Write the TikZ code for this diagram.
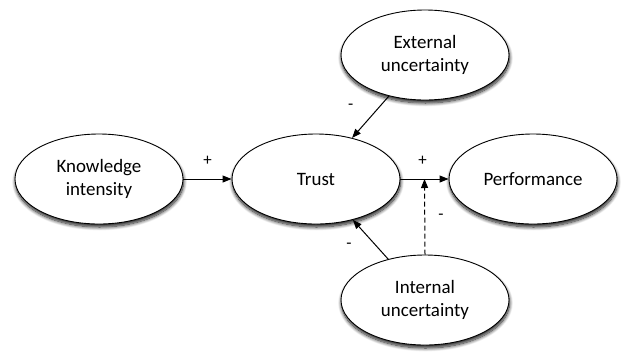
\documentclass[tikz,border=0pt]{standalone}
\usepackage{fontspec}
\setmainfont{Carlito}
\usetikzlibrary{shapes.geometric,arrows.meta,shadows.blur}
\begin{document}
\begin{tikzpicture}[x=1bp,y=-1bp,
  concept/.style={ellipse, draw, line width=0.9bp, fill=white,
    minimum width=168bp, minimum height=90bp, inner sep=0pt, align=center,
    font=\fontsize{19}{23.5}\selectfont,
    blur shadow={shadow xshift=0.5bp, shadow yshift=-3bp,
      shadow blur radius=3.5bp, shadow opacity=90, shadow blur steps=10}},
  link/.style={line width=1bp, -{Triangle[length=9bp,width=7bp]}},
  sign/.style={font=\fontsize{17}{20}\selectfont, inner sep=0pt}]
\useasboundingbox (0,0) rectangle (626,352);

% concepts of the model
\node[concept] (know)  at (99,179)  {Knowledge\\intensity};
\node[concept] (trust) at (316,179) {Trust};
\node[concept] (perf)  at (533,179) {Performance};
\node[concept] (ext)   at (425,55)  {External\\uncertainty};
\node[concept] (int)   at (425,300) {Internal\\uncertainty};

% relations
\draw[link] (know.east) -- node[sign, above=13bp] {+} (trust.west);
\draw[link] (trust.east) -- coordinate (mid) node[sign, above=13bp, xshift=-2bp] {+} (perf.west);
\draw[link] (ext) -- (trust) node[sign, pos=0.25, left=26bp] {-};
\draw[link] (int) -- (trust) node[sign, pos=0.34, left=24bp] {-};
\draw[link, dash pattern=on 5bp off 3bp] (int.north) -- (mid)
  node[sign, midway, right=13bp] {-};
\end{tikzpicture}
\end{document}
